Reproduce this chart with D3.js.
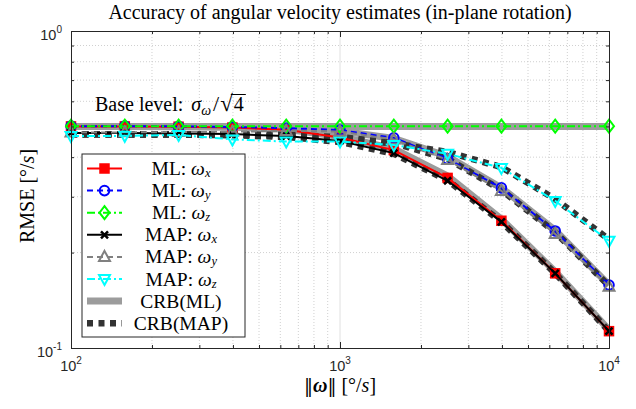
<!DOCTYPE html>
<html lang="en">
<head>
  <meta charset="UTF-8">
  <title>Accuracy of angular velocity estimates</title>
  <script src="https://d3js.org/d3.v7.min.js"></script>
  <style>
    body { margin: 0; background: #fff; }
    .serif { font-family: "Liberation Serif", "Times New Roman", serif; fill: #000; }
    .tick-label { font-family: "Liberation Sans", Arial, sans-serif; fill: #262626; }
    .axis path, .axis line { stroke: #262626; }
  </style>
</head>
<body>
  <svg width="636" height="409"></svg>

  <script>
    // omega norm [deg/s]
    const omegaNorm = [100, 158.5, 251.2, 398.1, 631.0, 1000, 1584.9, 2511.9, 3981.1, 6309.6, 10000];

    // RMSE [deg/s]
    const mlX  = [0.500, 0.500, 0.499, 0.496, 0.488, 0.461, 0.421, 0.344, 0.252, 0.172, 0.113];
    const mlY  = [0.501, 0.501, 0.500, 0.498, 0.494, 0.487, 0.460, 0.395, 0.320, 0.234, 0.158];
    const mlZ  = [0.501, 0.501, 0.501, 0.501, 0.501, 0.501, 0.501, 0.501, 0.501, 0.501, 0.501];
    const mapX = [0.477, 0.477, 0.475, 0.473, 0.466, 0.450, 0.412, 0.337, 0.250, 0.172, 0.113];
    const mapY = [0.478, 0.479, 0.480, 0.481, 0.484, 0.482, 0.455, 0.392, 0.313, 0.229, 0.156];
    const mapZ = [0.466, 0.467, 0.470, 0.455, 0.448, 0.448, 0.437, 0.410, 0.370, 0.291, 0.218];

    const crbMlX  = [0.500, 0.500, 0.499, 0.497, 0.490, 0.465, 0.425, 0.349, 0.255, 0.174, 0.114];
    const crbMlY  = [0.500, 0.500, 0.500, 0.499, 0.495, 0.484, 0.458, 0.402, 0.320, 0.235, 0.158];
    const crbMlZ  = [0.500, 0.500, 0.500, 0.500, 0.500, 0.500, 0.500, 0.500, 0.500, 0.500, 0.500];
    const crbMapX = [0.472, 0.472, 0.471, 0.469, 0.463, 0.447, 0.410, 0.338, 0.250, 0.172, 0.113];
    const crbMapY = [0.472, 0.472, 0.472, 0.472, 0.470, 0.463, 0.443, 0.395, 0.315, 0.232, 0.157];
    const crbMapZ = [0.472, 0.472, 0.472, 0.471, 0.467, 0.458, 0.442, 0.415, 0.372, 0.295, 0.220];

    const xTickExps = [2, 3, 4];
    const yTickExps = [-1, 0];
    const legendNames = ["ML", "ML", "ML", "MAP", "MAP", "MAP", "CRB(ML)", "CRB(MAP)"];
    const legendSubs  = ["x", "y", "z", "x", "y", "z", null, null];

    // styles
    const estStyles = [
      { data: mlX,  color: "#ff0000", dash: null,        marker: "square" },
      { data: mlY,  color: "#0000ff", dash: "6,4",       marker: "circle" },
      { data: mlZ,  color: "#00ff00", dash: "8,3,2,3",   marker: "diamond" },
      { data: mapX, color: "#000000", dash: null,        marker: "cross" },
      { data: mapY, color: "#808080", dash: "6,4",       marker: "triUp" },
      { data: mapZ, color: "#00ffff", dash: "8,3,2,3",   marker: "triDown" }
    ];
    const crbMl  = { color: "#9c9c9c", width: 7, dash: null };
    const crbMap = { color: "#333333", width: 6.5, dash: "6,5.5" };

    const svg = d3.select("svg");
    const pLeft = 71, pRight = 609, pTop = 31, pBottom = 348;

    const x = d3.scaleLog().domain([100, 10000]).range([pLeft, pRight]);
    const y = d3.scaleLog().domain([0.1, 1]).range([pBottom, pTop]);

    const majorX = xTickExps.map(e => Math.pow(10, e));
    const minorX = d3.range(2, 4).flatMap(e => d3.range(2, 10).map(m => m * Math.pow(10, e)));
    const majorY = yTickExps.map(e => Math.pow(10, e));
    const minorY = d3.range(2, 10).map(m => m / 10);

    // grid
    const grid = svg.append("g");
    grid.selectAll(".gx").data(minorX).join("line")
      .attr("x1", d => x(d)).attr("x2", d => x(d))
      .attr("y1", pTop).attr("y2", pBottom)
      .attr("stroke", "#c4c4c4").attr("stroke-width", 0.8).attr("stroke-dasharray", "1,2");
    grid.append("line")
      .attr("x1", x(1000)).attr("x2", x(1000)).attr("y1", pTop).attr("y2", pBottom)
      .attr("stroke", "#e0e0e0").attr("stroke-width", 1);
    grid.selectAll(".gy").data(minorY).join("line")
      .attr("x1", pLeft).attr("x2", pRight)
      .attr("y1", d => y(d)).attr("y2", d => y(d))
      .attr("stroke", "#c4c4c4").attr("stroke-width", 0.8).attr("stroke-dasharray", "1,2");

    // curves
    const line = d3.line().x(d => x(d[0])).y(d => y(d[1]));
    const plot = svg.append("g");

    [crbMlX, crbMlY, crbMlZ].forEach(arr => {
      plot.append("path").datum(omegaNorm.map((v, i) => [v, arr[i]]))
        .attr("d", line).attr("fill", "none")
        .attr("stroke", crbMl.color).attr("stroke-width", crbMl.width);
    });
    [crbMapX, crbMapY, crbMapZ].forEach(arr => {
      plot.append("path").datum(omegaNorm.map((v, i) => [v, arr[i]]))
        .attr("d", line).attr("fill", "none")
        .attr("stroke", crbMap.color).attr("stroke-width", crbMap.width)
        .attr("stroke-dasharray", crbMap.dash);
    });

    function drawMarker(g, type, color) {
      if (type === "square") {
        g.append("rect").attr("x", -4.5).attr("y", -4.5).attr("width", 9).attr("height", 9)
          .attr("fill", color).attr("stroke", color).attr("stroke-width", 1.5);
      } else if (type === "circle") {
        g.append("circle").attr("r", 4.8).attr("fill", "none")
          .attr("stroke", color).attr("stroke-width", 2);
      } else if (type === "diamond") {
        g.append("path").attr("d", "M0,-6.5L5,0L0,6.5L-5,0Z").attr("fill", "none")
          .attr("stroke", color).attr("stroke-width", 2);
      } else if (type === "cross") {
        g.append("path").attr("d", "M-3.5,-3.5L3.5,3.5M-3.5,3.5L3.5,-3.5").attr("fill", "none")
          .attr("stroke", color).attr("stroke-width", 2.5);
      } else if (type === "triUp") {
        g.append("path").attr("d", "M0,-6L5.5,4L-5.5,4Z").attr("fill", "none")
          .attr("stroke", color).attr("stroke-width", 2);
      } else if (type === "triDown") {
        g.append("path").attr("d", "M0,6L5.5,-4L-5.5,-4Z").attr("fill", "none")
          .attr("stroke", color).attr("stroke-width", 2);
      }
    }

    estStyles.forEach(s => {
      const pts = omegaNorm.map((v, i) => [v, s.data[i]]);
      plot.append("path").datum(pts)
        .attr("d", line).attr("fill", "none")
        .attr("stroke", s.color).attr("stroke-width", 2)
        .attr("stroke-dasharray", s.dash);
      pts.forEach(p => {
        const m = plot.append("g").attr("transform", `translate(${x(p[0])},${y(p[1])})`);
        drawMarker(m, s.marker, s.color);
      });
    });

    // axes (ticks inward on all four sides)
    const ax = svg.append("g").attr("class", "axis");
    const noLabel = () => "";
    ax.append("g").attr("transform", `translate(0,${pBottom})`)
      .call(d3.axisBottom(x).tickValues(majorX).tickSizeInner(-6).tickSizeOuter(0).tickFormat(noLabel));
    ax.append("g").attr("transform", `translate(0,${pBottom})`)
      .call(d3.axisBottom(x).tickValues(minorX).tickSizeInner(-3).tickSizeOuter(0).tickFormat(noLabel));
    ax.append("g").attr("transform", `translate(0,${pTop})`)
      .call(d3.axisTop(x).tickValues(majorX).tickSizeInner(-6).tickSizeOuter(0).tickFormat(noLabel));
    ax.append("g").attr("transform", `translate(0,${pTop})`)
      .call(d3.axisTop(x).tickValues(minorX).tickSizeInner(-3).tickSizeOuter(0).tickFormat(noLabel));
    ax.append("g").attr("transform", `translate(${pLeft},0)`)
      .call(d3.axisLeft(y).tickValues(majorY).tickSizeInner(-6).tickSizeOuter(0).tickFormat(noLabel));
    ax.append("g").attr("transform", `translate(${pLeft},0)`)
      .call(d3.axisLeft(y).tickValues(minorY).tickSizeInner(-3).tickSizeOuter(0).tickFormat(noLabel));
    ax.append("g").attr("transform", `translate(${pRight},0)`)
      .call(d3.axisRight(y).tickValues(majorY).tickSizeInner(-6).tickSizeOuter(0).tickFormat(noLabel));
    ax.append("g").attr("transform", `translate(${pRight},0)`)
      .call(d3.axisRight(y).tickValues(minorY).tickSizeInner(-3).tickSizeOuter(0).tickFormat(noLabel));
    ax.selectAll("path.domain").attr("stroke-width", 1);

    // tick labels 10^n
    function powerLabel(g, px, py, e, anchor) {
      const t = g.append("text").attr("class", "tick-label")
        .attr("x", px).attr("y", py).attr("text-anchor", anchor).attr("font-size", 14.5);
      t.append("tspan").text("10");
      t.append("tspan").attr("font-size", 10).attr("dy", -7).text(e);
    }
    xTickExps.forEach(e => powerLabel(svg, x(Math.pow(10, e)), pBottom + 23, e, "middle"));
    yTickExps.forEach(e => powerLabel(svg, pLeft - 9, y(Math.pow(10, e)) + 9, e, "end"));

    // title and axis labels
    svg.append("text").attr("class", "serif")
      .attr("x", (pLeft + pRight) / 2).attr("y", 19).attr("text-anchor", "middle")
      .attr("font-size", 20).text("Accuracy of angular velocity estimates (in-plane rotation)");

    const xl = svg.append("text").attr("class", "serif")
      .attr("x", (pLeft + pRight) / 2).attr("y", 392).attr("text-anchor", "middle").attr("font-size", 20);
    xl.append("tspan").attr("font-family", "DejaVu Serif").attr("font-size", 18).text("\u2016");
    xl.append("tspan").attr("font-weight", "bold").attr("font-style", "italic").text("\u03C9");
    xl.append("tspan").attr("font-family", "DejaVu Serif").attr("font-size", 18).text("\u2016");
    xl.append("tspan").text(" [\u00B0/");
    xl.append("tspan").attr("font-style", "italic").text("s");
    xl.append("tspan").text("]");

    const yl = svg.append("text").attr("class", "serif")
      .attr("transform", `translate(34,196) rotate(-90)`)
      .attr("text-anchor", "middle").attr("font-size", 20);
    yl.append("tspan").text("RMSE [\u00B0/");
    yl.append("tspan").attr("font-style", "italic").text("s");
    yl.append("tspan").text("]");

    // base level annotation
    const bl = svg.append("text").attr("class", "serif")
      .attr("x", 95).attr("y", 111).attr("font-size", 20);
    bl.append("tspan").text("Base level: ");
    bl.append("tspan").attr("font-style", "italic").attr("dx", 3).text("\u03C3");
    bl.append("tspan").attr("font-style", "italic").attr("font-size", 14).attr("dy", 4).text("\u03C9");
    bl.append("tspan").attr("dy", -4).attr("dx", 2).attr("font-size", 22).text("/");
    bl.append("tspan").attr("dx", 1).attr("font-size", 23).text("\u221A");
    const four = bl.append("tspan").attr("dx", 1).text("4");
    const fb = four.node().getExtentOfChar(0);
    svg.append("line")
      .attr("x1", fb.x - 3).attr("x2", fb.x + fb.width + 2)
      .attr("y1", fb.y + 1.5).attr("y2", fb.y + 1.5)
      .attr("stroke", "#000").attr("stroke-width", 1);

    // legend
    const lg = svg.append("g");
    lg.append("rect").attr("x", 82).attr("y", 154).attr("width", 163).attr("height", 183)
      .attr("fill", "#fff").attr("stroke", "#262626").attr("stroke-width", 1);
    const rowY = i => 168.5 + i * 22.1;
    legendNames.forEach((name, i) => {
      const cy = rowY(i);
      if (i < 6) {
        const s = estStyles[i];
        lg.append("line").attr("x1", 87).attr("x2", 122).attr("y1", cy).attr("y2", cy)
          .attr("stroke", s.color).attr("stroke-width", 2).attr("stroke-dasharray", s.dash);
        drawMarker(lg.append("g").attr("transform", `translate(104.5,${cy})`), s.marker, s.color);
      } else {
        const s = i === 6 ? crbMl : crbMap;
        lg.append("line").attr("x1", 87).attr("x2", 122).attr("y1", cy).attr("y2", cy)
          .attr("stroke", s.color).attr("stroke-width", s.width).attr("stroke-dasharray", s.dash);
      }
      const t = lg.append("text").attr("class", "serif")
        .attr("x", 181).attr("y", cy + 6.5).attr("text-anchor", "middle").attr("font-size", 19.5);
      if (legendSubs[i]) {
        t.append("tspan").text(name + ": ");
        t.append("tspan").attr("font-style", "italic").text("\u03C9");
        t.append("tspan").attr("font-style", "italic").attr("font-size", 12.5).attr("dy", 2).text(legendSubs[i]);
      } else {
        t.text(name);
      }
    });
  </script>
</body>
</html>
